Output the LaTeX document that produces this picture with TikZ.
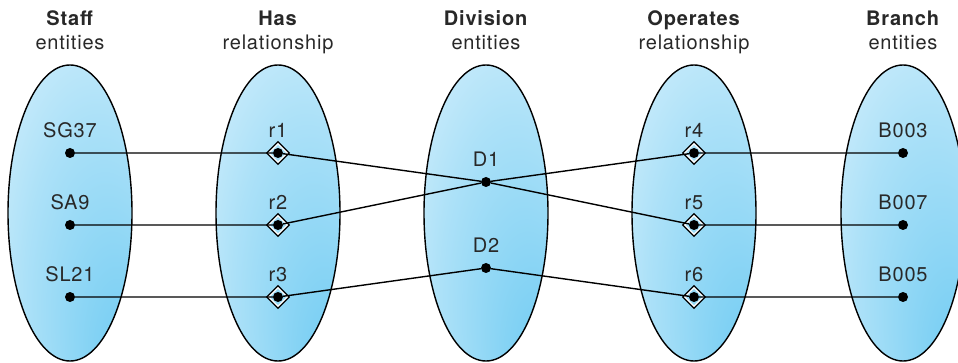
\documentclass[tikz,border=0pt]{standalone}
\usepackage{fontspec}
\setmainfont{TeX Gyre Heros}[LetterSpace=4]
\usetikzlibrary{shapes.geometric}
\definecolor{inblue}{RGB}{122,207,243}
\definecolor{midblue}{RGB}{172,225,248}
\definecolor{outblue}{RGB}{242,250,255}
\definecolor{txtgray}{RGB}{40,40,40}
\pgfdeclareradialshading{setshade}{\pgfpoint{24bp}{-29bp}}{color(0bp)=(inblue); color(6bp)=(inblue); color(30bp)=(midblue); color(58bp)=(outblue)}
\tikzset{
  setell/.style={ellipse,draw=black,line width=1.4pt,minimum width=124pt,minimum height=296pt,inner sep=0pt,shade,shading=setshade},
  entdot/.style={circle,fill=black,minimum size=10pt,inner sep=0pt},
  reldia/.style={diamond,draw=black,line width=1.3pt,minimum size=23pt,inner sep=0pt,
    path picture={\draw[white,line width=4.2pt] (path picture bounding box.north) -- (path picture bounding box.east)
      -- (path picture bounding box.south) -- (path picture bounding box.west) -- cycle;}},
  link/.style={line width=1.4pt},
  lbl/.style={text=txtgray,font=\fontsize{20}{24}\selectfont},
  hdr/.style={lbl,anchor=base}
}
\begin{document}
\begin{tikzpicture}[x=1pt,y=-1pt,label distance=6.5pt]
  \useasboundingbox (0,0) rectangle (958,363);
  % sets
  \node[setell] (staffset) at (70,213) {};
  \node[setell] (hasset) at (278,213) {};
  \node[setell] (divset) at (486,213) {};
  \node[setell] (opset) at (694,213) {};
  \node[setell] (brset) at (903,213) {};

  % headings
  \node[hdr] (staffhd) at (70,26) {\textbf{Staff}};
  \node[hdr] (staffsub) at (70,50) {entities};
  \node[hdr] (hashd) at (278,26) {\textbf{Has}};
  \node[hdr] (hassub) at (278,50) {relationship};
  \node[hdr] (divhd) at (486,26) {\textbf{Division}};
  \node[hdr] (divsub) at (486,50) {entities};
  \node[hdr] (ophd) at (694,26) {\textbf{Operates}};
  \node[hdr] (opsub) at (694,50) {relationship};
  \node[hdr] (brhd) at (903,26) {\textbf{Branch}};
  \node[hdr] (brsub) at (903,50) {entities};

  % staff
  \node[entdot,label={[lbl]above:SG37}] (sg37) at (70,153) {};
  \node[entdot,label={[lbl]above:SA9}] (sa9) at (70,225) {};
  \node[entdot,label={[lbl]above:SL21}] (sl21) at (70,297) {};

  % has
  \node[reldia] (r1d) at (278,153) {};
  \node[reldia] (r2d) at (278,225) {};
  \node[reldia] (r3d) at (278,297) {};
  \node[entdot,label={[lbl]above:r1}] (r1) at (278,153) {};
  \node[entdot,label={[lbl]above:r2}] (r2) at (278,225) {};
  \node[entdot,label={[lbl]above:r3}] (r3) at (278,297) {};

  % division
  \node[entdot,label={[lbl]above:D1}] (d1) at (486,182) {};
  \node[entdot,label={[lbl]above:D2}] (d2) at (486,268) {};

  % operates
  \node[reldia] (r4d) at (694,153) {};
  \node[reldia] (r5d) at (694,225) {};
  \node[reldia] (r6d) at (694,297) {};
  \node[entdot,label={[lbl]above:r4}] (r4) at (694,153) {};
  \node[entdot,label={[lbl]above:r5}] (r5) at (694,225) {};
  \node[entdot,label={[lbl]above:r6}] (r6) at (694,297) {};

  % branch
  \node[entdot,label={[lbl]above:B003}] (b003) at (903,153) {};
  \node[entdot,label={[lbl]above:B007}] (b007) at (903,225) {};
  \node[entdot,label={[lbl]above:B005}] (b005) at (903,297) {};

  \draw[link] (sg37) -- (r1) -- (d1) -- (r5) -- (b007);
  \draw[link] (sa9) -- (r2) -- (d1) -- (r4) -- (b003);
  \draw[link] (sl21) -- (r3) -- (d2) -- (r6) -- (b005);
\end{tikzpicture}
\end{document}
